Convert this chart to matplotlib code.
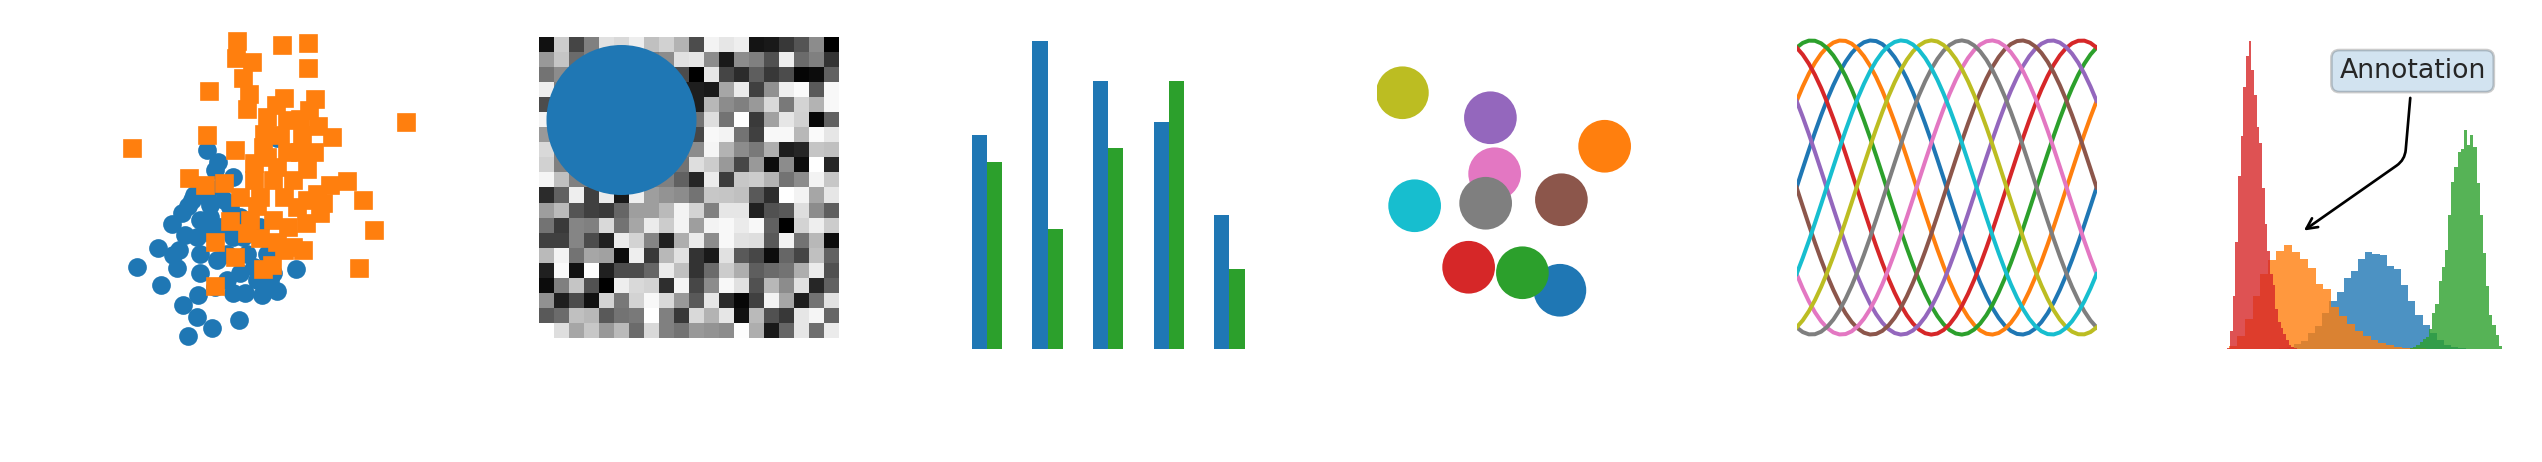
import numpy as np
import matplotlib
matplotlib.use("Agg")
import matplotlib.pyplot as plt

W_PX, H_PX, DPI = 2542, 462, 192.5

# ---- panel 1: two scatter clouds -------------------------------------------
blue_x = [0.66, -0.97, -0.72, -0.35, -0.78, -1.28, -1.40, -1.79, -1.56, -2.12,
          -2.59, -2.04, -1.67, -1.63, -1.48, -1.13, -0.90, -0.58, -1.52, -1.21,
          -1.40, -0.86, -0.21, -1.17, -0.78, -0.35, -0.08, 0.31, 0.66, 1.11,
          -1.13, -0.74, -1.13, -0.20, 0.19, 0.50, -0.04, 0.27, -0.90, -0.35,
          -1.21, -1.75, 0.43, -0.51, -0.90, -0.20, -0.66, -0.97, -1.32, -1.01,
          -0.51, 0.12, -0.66, -0.12, -0.43, 0.58]
blue_y = [1.59, 1.32, 1.05, 0.70, 0.86, 0.28, 0.01, -0.40, -0.15, -0.96,
          -1.40, -1.82, -1.42, -1.00, -0.65, -0.30, 0.04, 0.16, -2.27, -2.54,
          -2.99, -2.81, -2.61, -2.04, -1.85, -2.00, -1.99, -2.04, -1.96, -1.45,
          -1.08, -1.23, -1.54, -1.54, -1.69, -1.69, -1.08, -0.46, -0.61, -0.69,
          -0.69, -1.11, -1.08, -1.69, -0.23, -0.23, 0.47, 0.24, 0.16, -0.34,
          -1.08, -1.39, -0.46, -0.69, 0.00, -1.54]
orange_x = [-0.26, 0.79, 1.40, -0.30, 0.09, 1.38, -0.12, -0.91, 0.02, -0.04,
            0.82, 1.56, 0.64, 1.41, 3.68, 0.43, 1.20, 1.63, -0.97, -2.72,
            1.96, 0.36, 0.74, 1.24, -0.32, 1.52, 0.89, -1.38, 0.12, 0.66,
            1.36, -0.58, -1.01, 0.12, 0.58, 1.05, 1.90, 2.31, 2.68, -0.20,
            0.27, 0.82, 1.36, 1.59, 1.75, -0.44, 0.04, 0.58, 1.34, 1.67,
            2.93, -0.78, 0.26, 0.66, 1.05, 1.28, -0.31, 0.33, 0.54, 2.57,
            -0.79, 0.82, 0.19, 0.43, 0.89, 1.13, 0.35, 1.20, -0.04, 0.93]
orange_y = [3.85, 3.75, 3.81, 3.44, 3.37, 3.21, 2.98, 2.68, 2.62, 2.26,
            2.52, 2.49, 2.36, 2.25, 1.96, 2.09, 2.03, 1.88, 1.66, 1.36,
            1.63, 1.68, 1.67, 1.67, 1.33, 1.28, 1.28, 0.66, 1.01, 0.93,
            0.89, 0.55, 0.51, 0.62, 0.62, 0.62, 0.51, 0.59, 0.15, 0.24,
            0.24, 0.24, 0.16, 0.31, 0.08, -0.32, -0.30, -0.30, -0.37, -0.15,
            -0.54, -0.82, -0.73, -0.81, -0.92, -1.00, -1.15, -1.45, -1.35, -1.42,
            -1.84, -1.00, 0.01, 1.16, 2.01, 0.00, 1.40, 1.28, -0.61, -0.46]

# ---- panel 2: 20x20 grey image (0 = black, 1 = white; 0.5 = under the disc)
image_rows = [
    [0.07, 0.80, 0.27, 0.50, 0.88, 0.85, 0.93, 0.75, 0.82, 0.70, 0.30, 0.95, 0.90, 0.93, 0.08, 0.10, 0.22, 0.33, 0.55, 0.00],
    [0.60, 0.77, 0.42, 0.50, 0.50, 0.50, 0.50, 0.50, 0.55, 0.88, 0.90, 0.55, 0.10, 0.55, 0.50, 0.32, 0.93, 0.42, 0.50, 0.20],
    [0.45, 0.55, 0.50, 0.50, 0.50, 0.50, 0.50, 0.50, 0.50, 0.30, 0.00, 0.90, 0.27, 0.17, 0.37, 0.22, 0.30, 0.02, 0.05, 0.38],
    [0.93, 0.50, 0.50, 0.50, 0.50, 0.50, 0.50, 0.50, 0.50, 0.12, 0.12, 0.10, 0.65, 0.92, 0.25, 0.57, 0.93, 0.98, 0.35, 0.97],
    [0.30, 0.50, 0.50, 0.50, 0.50, 0.50, 0.50, 0.50, 0.50, 0.50, 0.12, 0.72, 0.55, 0.50, 0.60, 0.85, 0.48, 0.83, 0.70, 0.97],
    [0.95, 0.50, 0.50, 0.50, 0.50, 0.50, 0.50, 0.50, 0.50, 0.50, 0.45, 0.87, 0.45, 1.00, 0.23, 0.63, 0.90, 0.82, 0.03, 0.38],
    [0.60, 0.50, 0.50, 0.50, 0.50, 0.50, 0.50, 0.50, 0.50, 0.50, 0.28, 0.97, 0.95, 0.45, 0.25, 0.97, 0.97, 0.72, 0.98, 0.90],
    [0.85, 0.50, 0.50, 0.50, 0.50, 0.50, 0.50, 0.50, 0.50, 0.50, 0.55, 0.96, 0.70, 0.55, 0.48, 0.68, 0.12, 0.15, 0.77, 0.75],
    [0.82, 0.50, 0.50, 0.50, 0.50, 0.50, 0.50, 0.50, 0.50, 0.45, 0.87, 0.80, 0.60, 0.28, 0.60, 0.05, 0.55, 0.05, 1.00, 0.15],
    [0.96, 0.75, 0.50, 0.50, 0.50, 0.50, 0.50, 0.50, 0.50, 0.38, 0.15, 0.92, 0.24, 0.78, 0.80, 0.70, 0.45, 0.55, 0.95, 0.78],
    [0.17, 0.38, 0.93, 0.25, 0.92, 0.10, 0.93, 0.62, 0.58, 0.55, 0.45, 0.78, 0.77, 0.75, 0.35, 0.18, 1.00, 0.95, 0.65, 0.90],
    [0.62, 0.73, 0.33, 0.25, 0.23, 0.40, 0.62, 0.62, 0.73, 0.95, 0.83, 0.50, 0.90, 0.90, 0.13, 0.32, 0.35, 0.87, 0.55, 0.37],
    [0.45, 0.23, 0.52, 0.50, 0.85, 0.45, 0.65, 0.92, 0.80, 0.95, 0.62, 0.95, 0.97, 0.92, 0.97, 0.38, 0.00, 0.83, 0.93, 0.80],
    [0.25, 0.25, 0.52, 0.30, 0.13, 0.92, 0.83, 0.52, 0.13, 0.68, 0.92, 0.55, 0.97, 0.88, 0.87, 0.35, 0.95, 0.45, 0.72, 0.05],
    [0.73, 0.95, 0.45, 0.65, 0.63, 0.05, 0.93, 0.22, 0.72, 0.88, 0.20, 0.10, 0.88, 0.35, 0.28, 0.05, 0.40, 0.27, 0.75, 0.38],
    [0.13, 0.98, 0.07, 0.99, 0.13, 0.30, 0.30, 0.40, 0.92, 0.75, 0.20, 0.42, 0.80, 0.68, 0.37, 0.42, 0.45, 0.68, 0.92, 0.32],
    [0.05, 0.50, 0.77, 0.32, 0.00, 0.93, 0.85, 0.83, 0.18, 0.96, 0.28, 0.55, 0.97, 0.88, 0.32, 0.72, 0.55, 0.88, 0.15, 0.38],
    [0.57, 0.12, 0.30, 0.07, 0.83, 0.47, 0.83, 0.97, 0.85, 0.60, 0.35, 0.90, 0.17, 0.03, 0.25, 0.95, 0.65, 0.12, 0.45, 0.88],
    [0.35, 0.42, 0.75, 0.72, 0.35, 0.45, 0.48, 1.00, 0.50, 0.22, 0.85, 0.70, 0.90, 0.07, 0.73, 0.32, 0.22, 0.90, 0.96, 0.40],
    [1.00, 0.87, 0.65, 0.78, 0.60, 0.73, 0.42, 0.85, 0.50, 0.45, 0.60, 0.58, 0.55, 0.99, 0.68, 0.10, 0.40, 0.90, 0.43, 0.92],
]
disc_center = (5, 5)
disc_radius = 5

# ---- panel 3: grouped bars -------------------------------------------------
bar_a = [16, 23, 20, 17, 10]
bar_b = [14, 9, 15, 20, 6]

# ---- panel 4: coloured discs (drawn in colour-cycle order C0..C9) -----------
disc_x = [3.30, 5.09, 1.80, -0.35, 0.52, 3.36, 0.69, 0.33, -3.00, -2.51]
disc_y = [-3.61, 2.15, -2.91, -2.69, 3.29, 0.01, 1.05, -0.13, 4.29, -0.23]

# ---- panel 5: phase-shifted sinusoids ---------------------------------------
phase_shifts = [0.0, 0.628, 1.257, 1.885, 2.513, 3.142, 3.770, 4.398, 5.027, 5.655]

# ---- panel 6: four histograms (density per bin) ----------------------------
hist_starts = [0.1305, 0.0057, 0.6225, 0.0]
hist_widths = [0.02483, 0.02726, 0.01097, 0.00924]
hist_blue = [0.01, 0.02, 0.04, 0.07, 0.18, 0.29, 0.59, 0.85, 1.32, 1.76,
             2.10, 2.61, 2.87, 3.31, 3.57, 3.49, 3.46, 3.05, 2.94, 2.35,
             1.76, 1.25, 0.88, 0.59, 0.33, 0.15, 0.07, 0.04, 0.02, 0.01]
hist_orange = [0.11, 0.48, 1.10, 1.95, 2.76, 3.27, 3.60, 3.82, 3.57, 3.31,
               2.98, 2.39, 2.21, 1.54, 1.21, 0.92, 0.66, 0.48, 0.33, 0.22,
               0.15, 0.09, 0.06, 0.04, 0.03, 0.015, 0.011, 0.007, 0.004, 0.004]
hist_green = [0.01, 0.03, 0.07, 0.15, 0.26, 0.37, 0.44, 0.74, 1.32, 1.65,
              2.50, 3.01, 3.64, 4.93, 6.14, 6.69, 7.24, 7.35, 8.05, 7.50,
              7.87, 7.43, 6.10, 4.93, 3.53, 2.32, 1.25, 0.88, 0.51, 0.11]
hist_red = [0.06, 0.66, 1.95, 3.93, 6.36, 7.83, 9.63, 10.77, 11.32, 10.26,
            9.34, 8.16, 7.57, 5.92, 4.60, 3.60, 2.76, 2.35, 1.47, 0.99,
            0.77, 0.55, 0.33, 0.15, 0.08, 0.04, 0.02, 0.01, 0.01, 0.01]
annot_xy = (0.25, 4.25)

# ---- layout (pixels) --------------------------------------------------------
SLOT_LEFT = [119.8, 539.0, 958.2, 1377.4, 1796.6, 2215.8]
SLOT_TOP, SLOT_W, SLOT_H = 25.7, 300.0, 323.6

fig = plt.figure(figsize=(W_PX / DPI, H_PX / DPI), dpi=DPI)


def _slot(i):
    l = SLOT_LEFT[i]
    ax = fig.add_axes([l / W_PX, 1 - (SLOT_TOP + SLOT_H) / H_PX,
                       SLOT_W / W_PX, SLOT_H / H_PX])
    ax.set_axis_off()
    return ax


# scatter
ax = _slot(0)
ax.plot(blue_x, blue_y, ls="none", marker="o", color="C0")
ax.plot(orange_x, orange_y, ls="none", marker="s", color="C1")
ax.set(xlim=(-3.0, 4.0), ylim=(-3.3, 4.2))

# image + patch
ax = _slot(1)
ax.imshow(np.array(image_rows), cmap="gray", vmin=0, vmax=1, interpolation="none")
ax.add_patch(plt.Circle(disc_center, radius=disc_radius, color="C0", lw=0))
ax.set_axis_off()

# bars
ax = _slot(2)
xb = np.arange(len(bar_a))
ax.bar(xb, bar_a, 0.25, color="C0")
ax.bar(xb + 0.25, bar_b, 0.25, color="C2")

# coloured discs
ax = _slot(3)
for k, (cx, cy) in enumerate(zip(disc_x, disc_y)):
    ax.add_patch(plt.Circle((cx, cy), radius=1.0, color=f"C{k}"))
ax.set(xlim=(-4, 8), ylim=(-5, 6))
ax.set_aspect("equal", adjustable="box")

# sinusoids
ax = _slot(4)
xs = np.linspace(0, 2 * np.pi)
for s in phase_shifts:
    ax.plot(xs, np.sin(xs + s), "-")
ax.set_xlim(xs[0], xs[-1])

# histograms
ax = _slot(5)
for start, width, vals, col in zip(hist_starts, hist_widths,
                                   [hist_blue, hist_orange, hist_green, hist_red],
                                   ["C0", "C1", "C2", "C3"]):
    edges = start + width * np.arange(len(vals) + 1)
    ax.hist(edges[:-1], bins=edges, weights=vals, histtype="stepfilled",
            alpha=0.8, color=col)
ax.set_xlim(-0.04, 0.9995)
ax.annotate("Annotation", xy=annot_xy, xytext=(0.9, 0.9), textcoords=ax.transAxes,
            va="top", ha="right", fontsize=10, color="#262626",
            bbox=dict(boxstyle="round", alpha=0.2),
            arrowprops=dict(arrowstyle="->",
                            connectionstyle="angle,angleA=-95,angleB=35,rad=10"))

fig.savefig("out.png", dpi=DPI)
